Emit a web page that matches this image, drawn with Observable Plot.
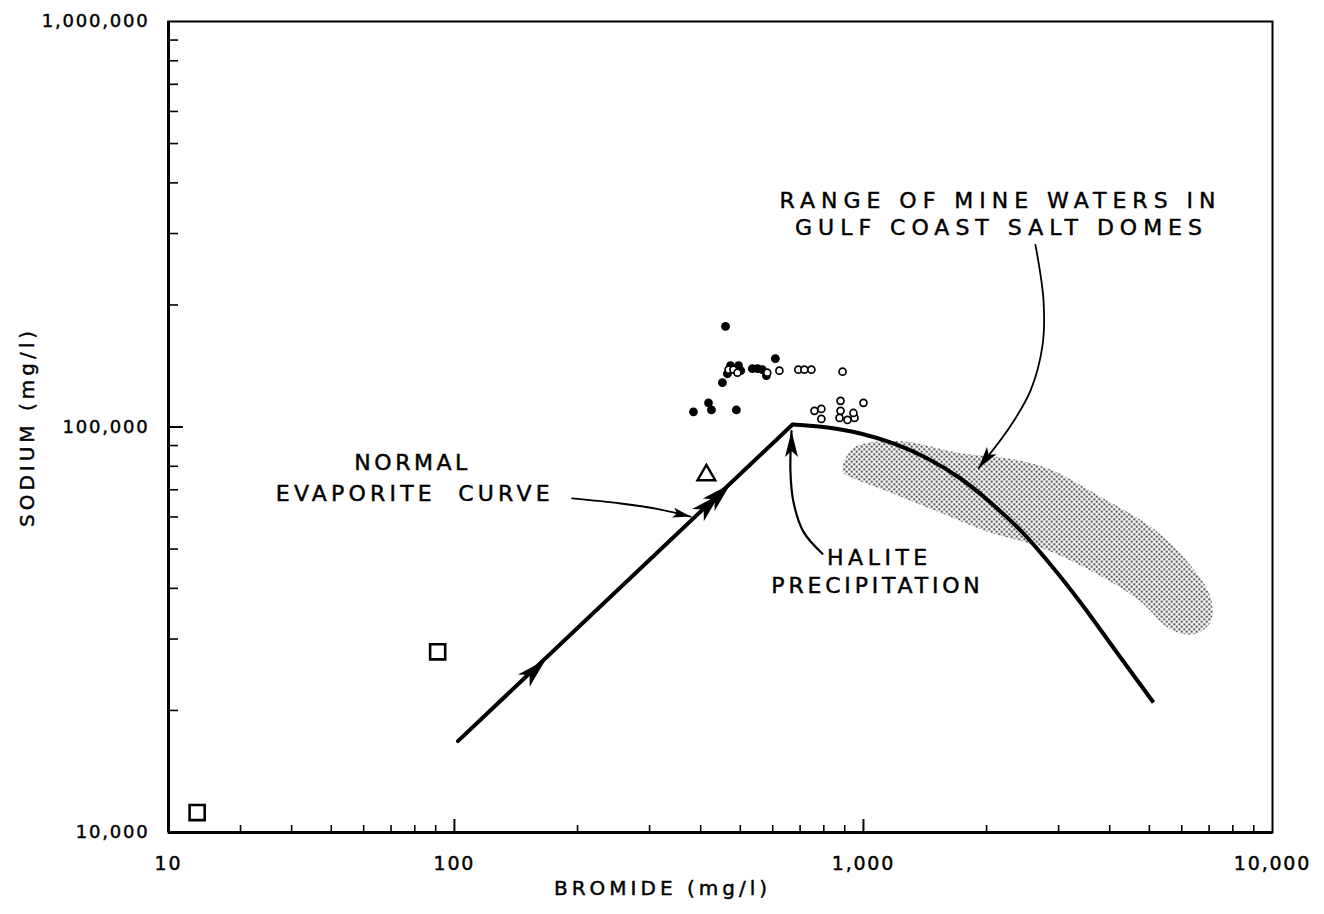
<!DOCTYPE html>
<html><head><meta charset="utf-8">
<script src="https://cdn.jsdelivr.net/npm/d3@7"></script>
<script src="https://cdn.jsdelivr.net/npm/@observablehq/plot@0.6"></script>
<style>
body{margin:0;background:#fff;}
</style></head><body><div id="chart"></div>
<script>
// ---- axes ----
const xTicks = [20, 100, 1000, 10000];
const xTickLabels = ["10", "100", "1,000", "10,000"];
const xMinorTicks = [30,40,50,60,70,80,90,200,300,400,500,600,700,800,900,2000,3000,4000,5000,6000,7000,8000,9000];
const yTicks = [10000, 100000, 1000000];
const yTickLabels = ["10,000", "100,000", "1,000,000"];
const yMinorTicks = [20000,30000,40000,50000,60000,70000,80000,90000,200000,300000,400000,500000,600000,700000,800000,900000];
const xTitle = "BROMIDE (mg/l)";
const yTitle = "SODIUM (mg/l)";

// ---- normal evaporite curve ----
const curveX = [102, 671, 817, 983, 1184, 1434, 1727, 2044, 2421, 2865, 3393, 4131, 5117];
const curveY = [16800, 101400, 99700, 96380, 91060, 83620, 74640, 65130, 55570, 45800, 36920, 28110, 20920];
const curveArrowX = [167, 445, 473];
const curveArrowY = [26650, 68200, 72340];

// ---- samples ----
const filledX = [460, 609, 452, 465, 473, 495, 501, 535, 551, 566, 579, 384, 418, 425, 489];
const filledY = [177000, 147500, 128600, 135300, 141700, 141700, 137700, 139300, 139300, 138500, 133800, 109000, 114700, 110200, 110200];
const openX = [468, 481, 492, 582, 623, 693, 717, 746, 889, 759, 789, 789, 879, 879, 874, 914, 951, 945, 1000];
const openY = [138500, 138500, 136100, 136100, 137700, 138500, 138500, 138500, 136900, 109600, 110800, 104700, 116000, 109600, 105300, 104100, 105300, 108300, 114700];
const squareX = [23.5, 91];
const squareY = [11200, 27900];
const triangleX = [413];
const triangleY = [76100];

// ---- range of mine waters (stippled area outline) ----
const rangeX = [889, 945, 1211, 1727, 2249, 2818, 3862, 5117, 6198, 7053, 7053, 6410, 5630, 4677, 3529, 2604, 2010, 1517, 1145, 945];
const rangeY = [77800, 88700, 92300, 86200, 83700, 79100, 66650, 56150, 46500, 38080, 33000, 30820, 31710, 37640, 44680, 51250, 55200, 61880, 69380, 74700];

// ---- annotations ----
const noteText = ["NORMAL", "EVAPORITE\u00a0\u00a0CURVE", "HALITE", "PRECIPITATION", "RANGE OF MINE WATERS IN", "GULF COAST SALT DOMES"];
const noteX = [79, 80, 1094, 1082, 2163, 2175];
const noteY = [81740, 68550, 47670, 40440, 361900, 310500];
const noteSpacing = [3.5, 4.2, 4.5, 3.8, 6, 6];
const evapArrowX = [194, 255, 319, 378];
const evapArrowY = [66650, 64770, 62580, 60130];
const haliteArrowX = [794, 713, 674, 663, 667];
const haliteArrowY = [48680, 55200, 65520, 77770, 97740];
const rangeArrowX = [2633, 2755, 2740, 2561, 2288, 1911];
const rangeArrowY = [281300, 205400, 158900, 122900, 100600, 79120];

function pts(X, Y) { return X.map((x, i) => ({x, y: Y[i]})); }

function arrowHead(angleDeg, L, W, N) {
  const a = angleDeg * Math.PI / 180, c = Math.cos(a), s = Math.sin(a);
  const p = [[0,0],[-L,-W],[-L+N,0],[-L,W]].map(([x,y]) => [x*c - y*s, x*s + y*c]);
  return {draw(ctx) { ctx.moveTo(p[0][0], p[0][1]); for (let i = 1; i < p.length; i++) ctx.lineTo(p[i][0], p[i][1]); ctx.closePath(); }};
}

const curve = pts(curveX, curveY);
const lastOf = (X, Y) => [{x: X[X.length-1], y: Y[Y.length-1]}];

const svg = Plot.plot({
  width: 1324, height: 914,
  marginLeft: 168, marginRight: 52, marginTop: 21, marginBottom: 82,
  style: {background: "white", color: "black", fontFamily: "DejaVu Sans, sans-serif", overflow: "visible"},
  x: {type: "log", domain: [20, 10000], axis: null},
  y: {type: "log", domain: [10000, 1000000], axis: null},
  marks: [
    // stippled range
    Plot.line(pts(rangeX, rangeY), {x: "x", y: "y", curve: "catmull-rom-closed", fill: "url(#stip)", stroke: "none"}),
    // frame & axes
    Plot.frame({stroke: "black", strokeWidth: 2}),
    Plot.ruleX([20], {stroke: "black", strokeWidth: 3}),
    Plot.ruleY([10000], {stroke: "black", strokeWidth: 3}),
    Plot.ruleX(xMinorTicks, {x: d => d, y1: 10000, y2: 10000, insetTop: -7, strokeWidth: 1.6}),
    Plot.ruleX([100, 1000], {x: d => d, y1: 10000, y2: 10000, insetTop: -13, strokeWidth: 2}),
    Plot.ruleY(yMinorTicks, {y: d => d, x1: 20, x2: 20, insetRight: -10, strokeWidth: 1.6}),
    Plot.ruleY([100000], {y: d => d, x1: 20, x2: 20, insetRight: -15, strokeWidth: 2}),
    Plot.text(xTicks, {x: d => d, text: (d, i) => xTickLabels[i], frameAnchor: "bottom", lineAnchor: "middle", dy: 31, fontSize: 19}),
    Plot.text(yTicks, {y: d => d, text: (d, i) => yTickLabels[i], frameAnchor: "left", lineAnchor: "middle", dx: -19, textAnchor: "end", fontSize: 18}),
    Plot.text([xTitle], {text: d => d, frameAnchor: "bottom", lineAnchor: "middle", textAnchor: "middle", dy: 56, dx: -58, fontSize: 20}),
    Plot.text([yTitle], {text: d => d, frameAnchor: "left", lineAnchor: "middle", textAnchor: "middle", dx: -141, rotate: -90, fontSize: 20}),
    // evaporite curve
    Plot.line(curve.slice(0, 2), {x: "x", y: "y", strokeWidth: 4, strokeLinecap: "round"}),
    Plot.line(curve.slice(1), {x: "x", y: "y", strokeWidth: 4, curve: "catmull-rom", strokeLinecap: "butt"}),
    Plot.dot(pts(curveArrowX, curveArrowY), {x: "x", y: "y", symbol: arrowHead(-43.7, 30, 8.5, 8), fill: "black", stroke: "none"}),
    // samples
    Plot.dot(pts(filledX, filledY), {x: "x", y: "y", r: 4.4, fill: "black", stroke: "none"}),
    Plot.dot(pts(openX, openY), {x: "x", y: "y", r: 3.5, fill: "white", stroke: "black", strokeWidth: 1.7}),
    Plot.dot(pts(squareX, squareY), {x: "x", y: "y", symbol: "square", r: 8.5, fill: "none", stroke: "black", strokeWidth: 2.6}),
    Plot.dot(pts(triangleX, triangleY), {x: "x", y: "y", symbol: "triangle", r: 6.6, fill: "none", stroke: "black", strokeWidth: 2.4}),
    // annotation arrows
    Plot.line(pts(evapArrowX, evapArrowY), {x: "x", y: "y", curve: "catmull-rom", strokeWidth: 1.8}),
    Plot.dot(lastOf(evapArrowX, evapArrowY), {x: "x", y: "y", symbol: arrowHead(13, 18, 5, 4), fill: "black", stroke: "none"}),
    Plot.line(pts(haliteArrowX, haliteArrowY), {x: "x", y: "y", curve: "catmull-rom", strokeWidth: 2.2}),
    Plot.dot(lastOf(haliteArrowX, haliteArrowY), {x: "x", y: "y", symbol: arrowHead(-90, 26, 6.5, 6), fill: "black", stroke: "none"}),
    Plot.line(pts(rangeArrowX, rangeArrowY), {x: "x", y: "y", curve: "catmull-rom", strokeWidth: 1.8}),
    Plot.dot(lastOf(rangeArrowX, rangeArrowY), {x: "x", y: "y", symbol: arrowHead(127, 22, 6, 5), fill: "black", stroke: "none"}),
    // annotation text
    Plot.text(noteText, {x: (d, i) => noteX[i], y: (d, i) => noteY[i], text: d => d, fontSize: 22})
  ]
});

// stipple pattern
const defs = d3.select(svg).insert("defs", ":first-child");
const pat = defs.append("pattern").attr("id", "stip").attr("patternUnits", "userSpaceOnUse").attr("width", 5).attr("height", 5);
pat.append("circle").attr("cx", 1.25).attr("cy", 1.25).attr("r", 1.0).attr("fill", "black");
pat.append("circle").attr("cx", 3.75).attr("cy", 3.75).attr("r", 1.0).attr("fill", "black");

// letter spacing and slightly heavier strokes for the lettering
const spacing = new Map(noteText.map((t, i) => [t, noteSpacing[i]]));
d3.select(svg).selectAll("text").each(function() {
  const t = this.textContent;
  let ls = 1.8;
  if (spacing.has(t)) ls = spacing.get(t);
  else if (t === xTitle || t === yTitle) ls = 4;
  this.style.letterSpacing = ls + "px";
  this.style.stroke = "black";
  this.style.strokeWidth = "0.45px";
});

document.getElementById("chart").appendChild(svg);
</script>
</body></html>
